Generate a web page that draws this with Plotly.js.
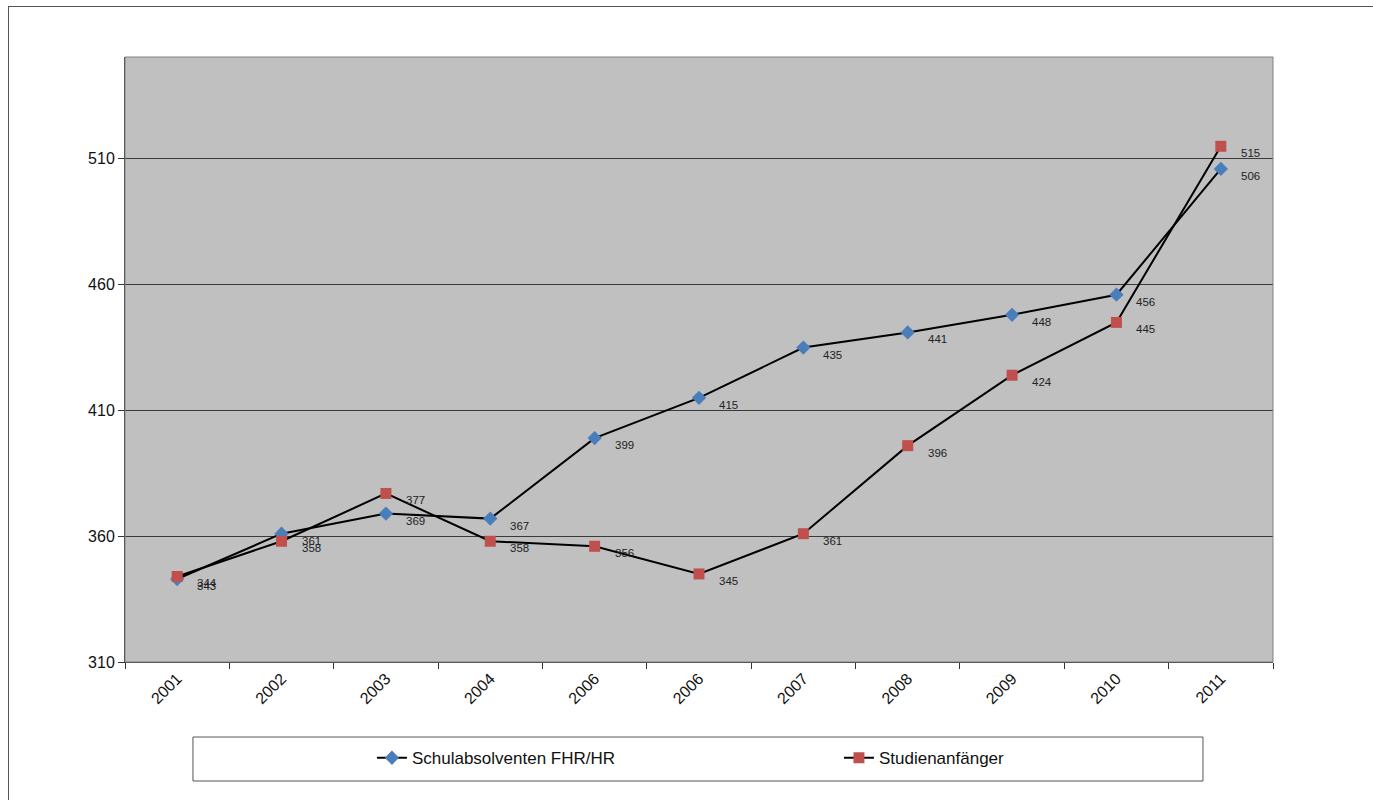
<!DOCTYPE html>
<html>
<head>
<meta charset="utf-8">
<script src="https://cdn.plot.ly/plotly-3.0.1.min.js"></script>
<style>
  html, body { margin: 0; padding: 0; background: #fff; }
  #wrap { position: relative; width: 1373px; height: 800px; overflow: hidden; }
  #chart { position: absolute; left: 0; top: 0; width: 1373px; height: 800px; }
  #frame { position: absolute; left: 8px; top: 6px; width: 1400px; height: 820px;
           border: 1px solid #555; pointer-events: none; }
</style>
</head>
<body>
<div id="wrap">
  <div id="chart"></div>
  <div id="frame"></div>
</div>
<script>
const years = ["2001", "2002", "2003", "2004", "2006", "2006", "2007", "2008", "2009", "2010", "2011"];
const schulabsolventen = [343, 361, 369, 367, 399, 415, 435, 441, 448, 456, 506];
const studienanfaenger = [344, 358, 377, 358, 356, 345, 361, 396, 424, 445, 515];
const seriesNames = ["Schulabsolventen FHR/HR", "Studienanfänger"];
const yTicks = [310, 360, 410, 460, 510];

const idx = years.map((_, i) => i);
const font = "Liberation Sans, Arial, sans-serif";

const traces = [
  {
    x: idx, y: schulabsolventen, name: seriesNames[0], type: "scatter", mode: "lines+markers",
    line: { color: "#000000", width: 2 },
    marker: { symbol: "diamond", size: 11, color: "#4a7ebb" }
  },
  {
    x: idx, y: studienanfaenger, name: seriesNames[1], type: "scatter", mode: "lines+markers",
    line: { color: "#000000", width: 2 },
    marker: { symbol: "square", size: 11, color: "#c0504d" }
  }
];

const annotations = [];
[schulabsolventen, studienanfaenger].forEach(arr => {
  arr.forEach((v, i) => {
    annotations.push({
      x: i, y: v, xref: "x", yref: "y", text: String(v), showarrow: false,
      xanchor: "left", yanchor: "middle", xshift: 18, yshift: -7,
      font: { family: font, size: 11.5, color: "#222" }
    });
  });
});

const layout = {
  width: 1373, height: 800,
  margin: { l: 125, r: 100, t: 57, b: 138, autoexpand: false },
  paper_bgcolor: "rgba(0,0,0,0)",
  plot_bgcolor: "#c0c0c0",
  font: { family: font, size: 16, color: "#111" },
  showlegend: true,
  legend: {
    orientation: "h", x: 0.2151, xanchor: "left", y: -0.159, yanchor: "middle",
    bgcolor: "rgba(0,0,0,0)", borderwidth: 0,
    entrywidth: 422, entrywidthmode: "pixels",
    font: { family: font, size: 17, color: "#111" }
  },
  xaxis: {
    range: [-0.5, 10.5],
    tickmode: "array", tickvals: idx, ticktext: years,
    tickangle: -45, ticks: "",
    showgrid: false, zeroline: false,
    showline: true, linecolor: "#333", linewidth: 1,
    tickfont: { family: font, size: 16, color: "#111" },
    minor: { tickmode: "linear", tick0: 0.5, dtick: 1, ticks: "outside", ticklen: 6, tickcolor: "#333", tickwidth: 1, showgrid: false }
  },
  yaxis: {
    range: [310, 550.5],
    tickmode: "array", tickvals: yTicks,
    ticks: "outside", ticklen: 6, tickcolor: "#333",
    showgrid: true, gridcolor: "#3a3a3a", gridwidth: 1,
    zeroline: false, showline: true, linecolor: "#333", linewidth: 1,
    tickfont: { family: font, size: 16, color: "#111" }
  },
  shapes: [
    { type: "rect", xref: "paper", yref: "paper", x0: 0, x1: 1, y0: 0, y1: 1,
      line: { color: "#808080", width: 1 }, layer: "above" },
    { type: "rect", xref: "paper", yref: "paper", x0: 0.0592, x1: 0.939, y0: -0.124, y1: -0.1967,
      line: { color: "#555", width: 1 }, fillcolor: "#ffffff", layer: "below" }
  ],
  annotations: annotations
};

Plotly.newPlot("chart", traces, layout, { displayModeBar: false, staticPlot: true });
</script>
</body>
</html>
